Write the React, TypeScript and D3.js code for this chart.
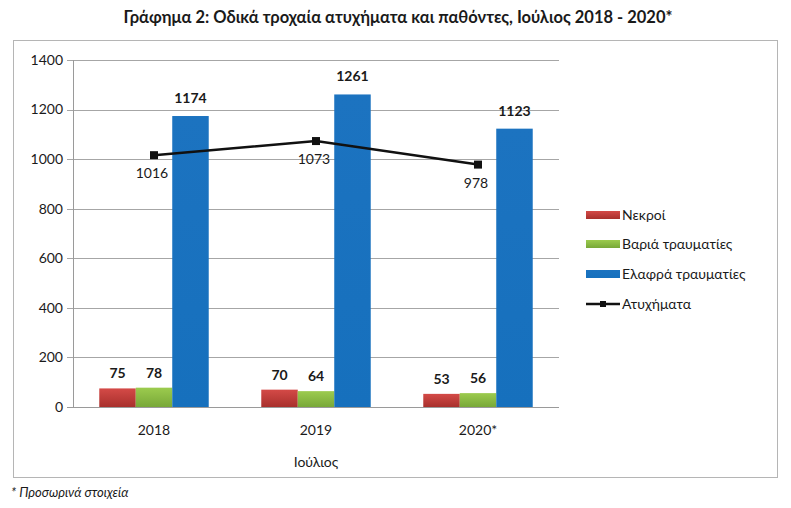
import React, { useEffect, useRef } from 'react';
import * as d3 from 'd3';

const years = ['2018', '2019', '2020*'];
const dead = [75, 70, 53];
const seriouslyInjured = [78, 64, 56];
const slightlyInjured = [1174, 1261, 1123];
const accidents = [1016, 1073, 978];
const yTicks = [0, 200, 400, 600, 800, 1000, 1200, 1400];

const seriesNames = ['Νεκροί', 'Βαριά τραυματίες', 'Ελαφρά τραυματίες'];
const lineName = 'Ατυχήματα';

const FONT = 'Lato, "Open Sans", sans-serif';

export default function App() {
  const svgRef = useRef<SVGSVGElement>(null);

  useEffect(() => {
    if (!svgRef.current) return;
    const width = 791;
    const height = 508;
    const svg = d3.select(svgRef.current);
    svg.selectAll('*').remove();
    svg.attr('width', width).attr('height', height);

    const defs = svg.append('defs');
    const grads = [
      { id: 'gRed', top: '#d44a47', bottom: '#a8302c' },
      { id: 'gGreen', top: '#9ccb4e', bottom: '#78a838' },
      { id: 'gBlue', top: '#1c73c0', bottom: '#1670bd' },
    ];
    grads.forEach(g => {
      const lg = defs.append('linearGradient').attr('id', g.id)
        .attr('x1', 0).attr('y1', 0).attr('x2', 0).attr('y2', 1);
      lg.append('stop').attr('offset', '0%').attr('stop-color', g.top);
      lg.append('stop').attr('offset', '100%').attr('stop-color', g.bottom);
    });
    const fills = ['url(#gRed)', 'url(#gGreen)', 'url(#gBlue)'];

    // title
    svg.append('text')
      .attr('x', 398).attr('y', 23)
      .attr('text-anchor', 'middle')
      .style('font-family', FONT).style('font-weight', 'bold').style('font-size', '16.5px')
      .style('fill', '#1a1a1a')
      .text('Γράφημα 2: Οδικά τροχαία ατυχήματα και παθόντες, Ιούλιος 2018 - 2020*');

    // frame
    svg.append('rect')
      .attr('x', 13.5).attr('y', 40.5).attr('width', 764).attr('height', 437)
      .style('fill', 'none').style('stroke', '#b5b5b5').style('stroke-width', 1);

    const left = 73, right = 559, top = 60, bottom = 407;
    const x = d3.scaleBand().domain(years).range([left, right]);
    const y = d3.scaleLinear().domain([0, 1400]).range([bottom, top]);
    const inner = d3.scaleBand().domain(['0', '1', '2'])
      .range([0, x.bandwidth()]).paddingOuter(0.72).paddingInner(0);

    const g = svg.append('g');

    yTicks.forEach(t => {
      g.append('line')
        .attr('x1', left - 6).attr('x2', right)
        .attr('y1', Math.round(y(t)) + 0.5).attr('y2', Math.round(y(t)) + 0.5)
        .style('stroke', t === 0 ? '#9a9a9a' : '#a6a6a6').style('stroke-width', 1);
      g.append('text')
        .attr('x', left - 10).attr('y', y(t))
        .attr('dy', '0.35em').attr('text-anchor', 'end')
        .style('font-family', FONT).style('font-size', '14px').style('fill', '#1a1a1a')
        .text(String(t));
    });
    g.append('line')
      .attr('x1', left + 0.5).attr('x2', left + 0.5).attr('y1', top).attr('y2', bottom)
      .style('stroke', '#9a9a9a');

    const series = [dead, seriouslyInjured, slightlyInjured];
    series.forEach((vals, si) => {
      vals.forEach((v, i) => {
        const bx = (x(years[i]) as number) + (inner(String(si)) as number);
        const bw = inner.bandwidth();
        g.append('rect')
          .attr('x', bx).attr('y', y(v)).attr('width', bw).attr('height', y(0) - y(v))
          .style('fill', fills[si]);
        g.append('text')
          .attr('x', bx + bw / 2).attr('y', y(v) - (si === 2 ? 13 : 10))
          .attr('text-anchor', 'middle')
          .style('font-family', FONT).style('font-weight', 'bold').style('font-size', '14px')
          .style('fill', '#1a1a1a')
          .text(String(v));
      });
    });

    // line
    const cx = (i: number) => (x(years[i]) as number) + x.bandwidth() / 2;
    const line = d3.line<number>().x((d, i) => cx(i)).y(d => y(d));
    g.append('path').datum(accidents).attr('d', line)
      .style('fill', 'none').style('stroke', '#111').style('stroke-width', 2.5);
    accidents.forEach((v, i) => {
      g.append('rect')
        .attr('x', cx(i) - 4).attr('y', y(v) - 4).attr('width', 8).attr('height', 8)
        .style('fill', '#111');
      g.append('text')
        .attr('x', cx(i) - 2).attr('y', y(v) + 23)
        .attr('text-anchor', 'middle')
        .style('font-family', FONT).style('font-size', '14px').style('fill', '#1a1a1a')
        .text(String(v));
    });

    // x labels
    years.forEach((yr, i) => {
      g.append('text')
        .attr('x', cx(i)).attr('y', 435)
        .attr('text-anchor', 'middle')
        .style('font-family', FONT).style('font-size', '14px').style('fill', '#1a1a1a')
        .text(yr);
    });
    g.append('text')
      .attr('x', cx(1)).attr('y', 467)
      .attr('text-anchor', 'middle')
      .style('font-family', FONT).style('font-size', '14px').style('fill', '#1a1a1a')
      .text('Ιούλιος');

    // legend
    const lg = svg.append('g').attr('transform', 'translate(586,0)');
    const rows = [215, 244, 274, 304];
    seriesNames.forEach((n, i) => {
      lg.append('rect').attr('x', 0).attr('y', rows[i] - 4).attr('width', 34).attr('height', 8)
        .style('fill', fills[i]);
      lg.append('text').attr('x', 36).attr('y', rows[i]).attr('dy', '0.35em')
        .style('font-family', FONT).style('font-size', '14px').style('fill', '#1a1a1a')
        .text(n);
    });
    lg.append('line').attr('x1', 0).attr('x2', 34).attr('y1', rows[3]).attr('y2', rows[3])
      .style('stroke', '#111').style('stroke-width', 2.5);
    lg.append('rect').attr('x', 14).attr('y', rows[3] - 3).attr('width', 6).attr('height', 6)
      .style('fill', '#111');
    lg.append('text').attr('x', 36).attr('y', rows[3]).attr('dy', '0.35em')
      .style('font-family', FONT).style('font-size', '14px').style('fill', '#1a1a1a')
      .text(lineName);

    // footnote
    svg.append('text')
      .attr('x', 11).attr('y', 497)
      .style('font-family', FONT).style('font-style', 'italic').style('font-size', '13px')
      .style('fill', '#1a1a1a')
      .text('* Προσωρινά στοιχεία');
  }, []);

  return (
    <div style={{ position: 'absolute', left: 0, top: 0 }}>
      <svg ref={svgRef}></svg>
    </div>
  );
}
